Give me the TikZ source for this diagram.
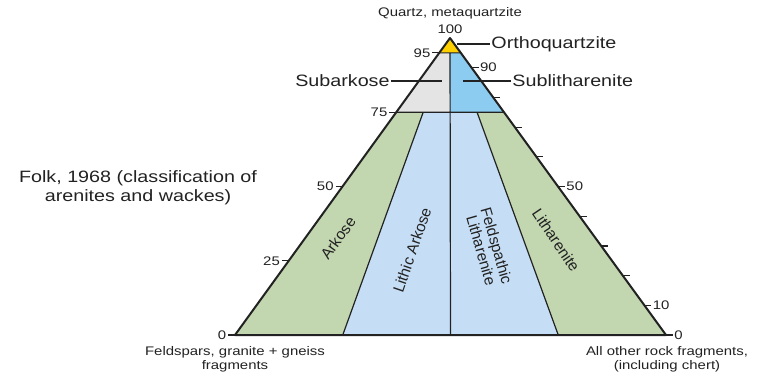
\documentclass[tikz,border=0pt]{standalone}
\usepackage{fontspec}
\setmainfont{Liberation Sans}
\usetikzlibrary{calc}
\definecolor{qtzyellow}{RGB}{255,208,0}
\definecolor{subgrey}{RGB}{228,228,228}
\definecolor{subblue}{RGB}{140,204,240}
\definecolor{bandgreen}{RGB}{194,214,176}
\definecolor{bandblue}{RGB}{198,222,245}
\definecolor{ink}{RGB}{34,34,34}
\tikzset{
  lbl/.style={font=\fontsize{16.5}{19}\selectfont, xscale=1.2, inner sep=1pt, align=center, text=ink},
  small/.style={font=\fontsize{12.5}{14}\selectfont, xscale=1.2, inner sep=1pt, align=center, text=ink},
  field/.style={font=\fontsize{15.5}{16}\selectfont, inner sep=1pt, align=center, text=ink},
}
\begin{document}
\begin{tikzpicture}[x=1bp, y=-1bp, line join=round]
\useasboundingbox (0,0) rectangle (764,373);
\coordinate (Q) at (450,38);
\coordinate (F) at (235,335);
\coordinate (R) at (666,335);
\coordinate (L95) at ($(Q)!0.05!(F)$);
\coordinate (R95) at ($(Q)!0.05!(R)$);
\coordinate (L75) at ($(Q)!0.25!(F)$);
\coordinate (R75) at ($(Q)!0.25!(R)$);
\coordinate (m95) at ($(L95)!0.5!(R95)$);
\coordinate (m75) at ($(L75)!0.5!(R75)$);
\coordinate (a75) at ($(L75)!0.25!(R75)$);
\coordinate (b75) at ($(L75)!0.75!(R75)$);
\coordinate (a0) at ($(F)!0.25!(R)$);
\coordinate (m0) at ($(F)!0.5!(R)$);
\coordinate (b0) at ($(F)!0.75!(R)$);

\fill[qtzyellow] (Q) -- (L95) -- (R95) -- cycle;
\fill[subgrey] (L95) -- (m95) -- (m75) -- (L75) -- cycle;
\fill[subblue] (m95) -- (R95) -- (R75) -- (m75) -- cycle;
\fill[bandgreen] (L75) -- (a75) -- (a0) -- (F) -- cycle;
\fill[bandgreen] (b75) -- (R75) -- (R) -- (b0) -- cycle;
\fill[bandblue] (a75) -- (b75) -- (b0) -- (a0) -- cycle;

\draw[ink, line width=1.2bp] (L95) -- (R95) (L75) -- (R75)
  (m95) -- (m0) (a75) -- (a0) (b75) -- (b0);
\draw[ink, line width=2bp] (Q) -- (F) -- (R) -- cycle;

\foreach \q in {95,75,50,25,0}
  \draw[ink, line width=1.2bp] ($(F)!{\q/100}!(Q)$) coordinate (tl\q) -- ++(-7,0)
    node[small, anchor=east] (nl\q) {\q};
\foreach \q in {90,80,...,0}
  \draw[ink, line width=1.2bp] ($(R)!{\q/100}!(Q)$) coordinate (tr\q) -- ++(7,0) coordinate (er\q);
\foreach \q in {90,50,10,0}
  \node[small, anchor=west] (nr\q) at (er\q) {\q};

\node[small] (top) at (450,29) {100};
\node[small] (quartz) at (450,13) {Quartz, metaquartzite};
\node[small] (feld) at (235,359) {Feldspars, granite + gneiss\\fragments};
\node[small] (rock) at (667,359) {All other rock fragments,\\(including chert)};
\node[lbl] (folk) at (138,188) {Folk, 1968 (classification of\\arenites and wackes)};

\node[lbl, anchor=west] (ortho) at (490,44) {Orthoquartzite};
\coordinate (ortho-end) at (457,44);
\draw[ink, line width=1.2bp] (ortho-end) -- (ortho.west);
\node[lbl, anchor=east] (subark) at (391,81) {Subarkose};
\coordinate (subark-end) at (442,81);
\draw[ink, line width=1.2bp] (subark.east) -- (subark-end);
\node[lbl, anchor=west] (sublith) at (511,81) {Sublitharenite};
\coordinate (sublith-end) at (463,81);
\draw[ink, line width=1.2bp] (sublith-end) -- (sublith.west);

\node[field, rotate=54] (arkose) at (338,238) {Arkose};
\node[field, rotate=71] (lithark) at (412,250) {Lithic Arkose};
\node[field, rotate=-74] (feldlith) at (489,248) {Feldspathic\\Litharenite};
\node[field, rotate=-56] (lith) at (556,240) {Litharenite};
\end{tikzpicture}
\end{document}
